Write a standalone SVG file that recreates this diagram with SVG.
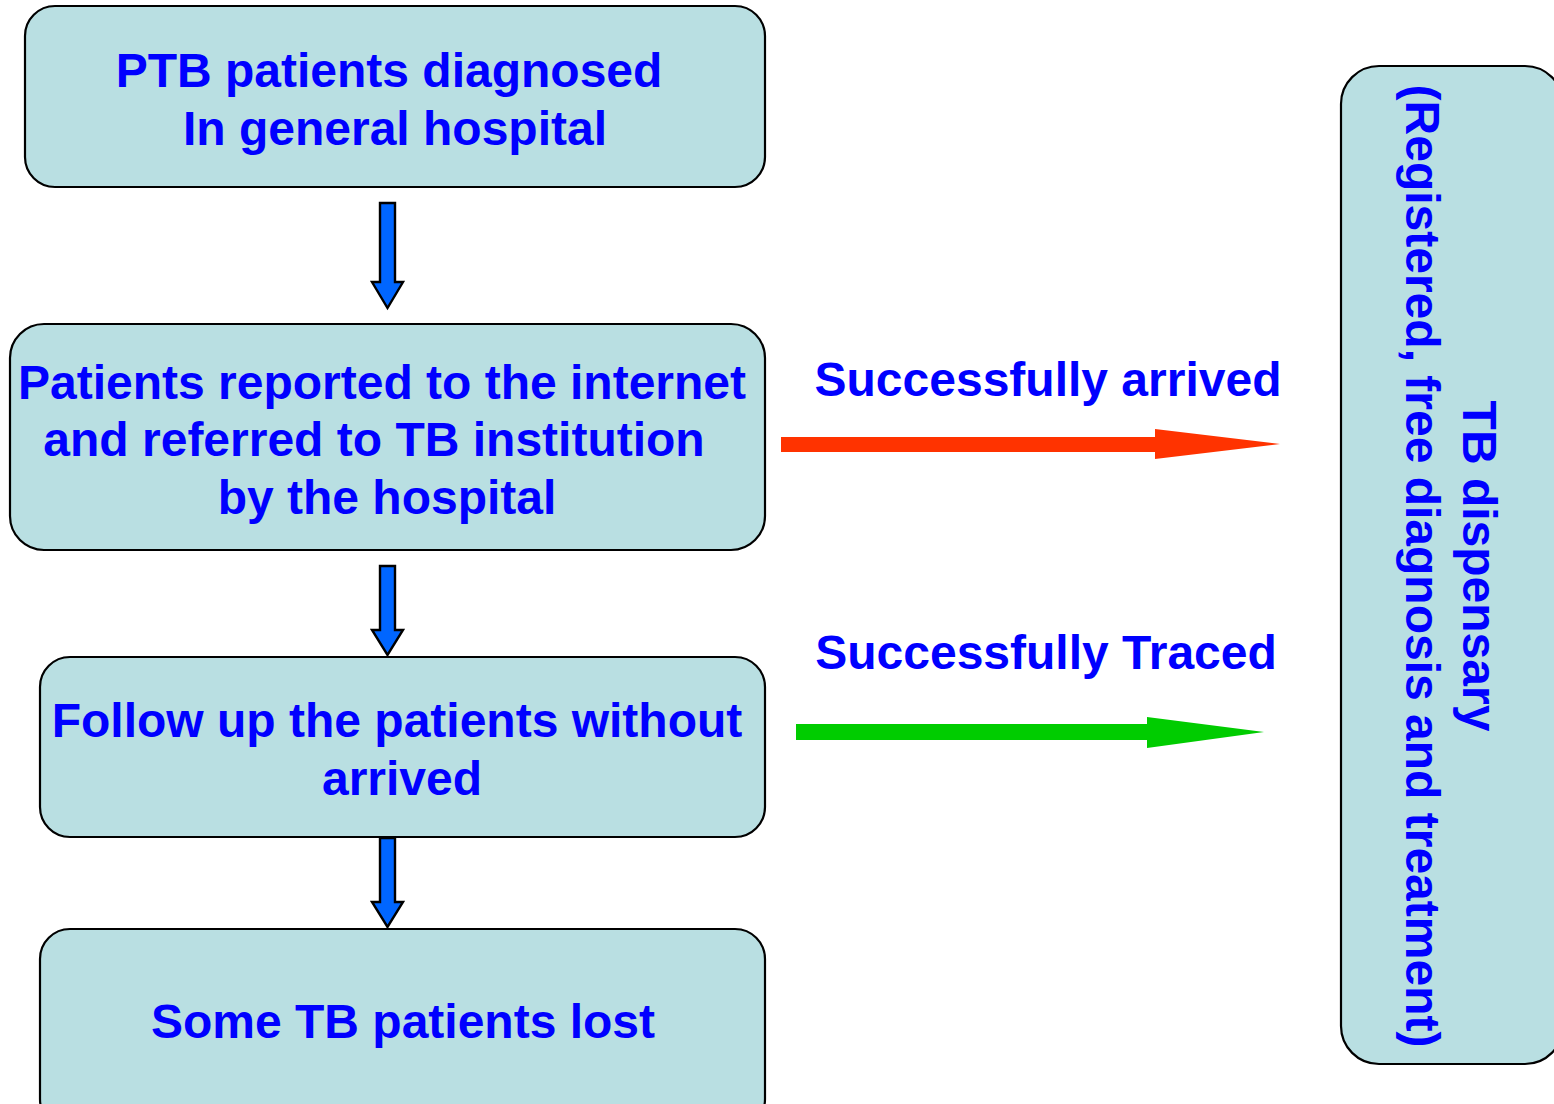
<svg xmlns="http://www.w3.org/2000/svg" width="1554" height="1104" viewBox="0 0 1554 1104">
  <style>
    .box { fill: #B9DFE2; stroke: #000000; stroke-width: 2.2; }
    .txt { font-family: "Liberation Sans", Arial, sans-serif; font-weight: bold; font-size: 48px; fill: #0000FF; text-anchor: middle; }
    .down { fill: #0066FF; stroke: #000000; stroke-width: 2.4; stroke-linejoin: miter; }
  </style>
  <rect width="1554" height="1104" fill="#FFFFFF"/>

  <!-- flow boxes -->
  <g id="node-diagnosed">
    <rect class="box" x="25" y="6" width="740" height="181" rx="30" ry="30"/>
    <text class="txt" x="389" y="87">PTB patients diagnosed</text>
    <text class="txt" x="395" y="145">In general hospital</text>
  </g>
  <g id="node-reported">
    <rect class="box" x="10" y="324" width="755" height="226" rx="34" ry="34"/>
    <text class="txt" x="382" y="399">Patients reported to the internet</text>
    <text class="txt" x="374" y="456">and referred to TB institution</text>
    <text class="txt" x="387" y="514">by the hospital</text>
  </g>
  <g id="node-followup">
    <rect class="box" x="40" y="657" width="725" height="180" rx="30" ry="30"/>
    <text class="txt" x="397" y="737">Follow up the patients without</text>
    <text class="txt" x="402" y="795">arrived</text>
  </g>
  <g id="node-lost">
    <rect class="box" x="40" y="929" width="725" height="200" rx="30" ry="30"/>
    <text class="txt" x="403" y="1038">Some TB patients lost</text>
  </g>
  <g id="node-dispensary">
    <rect class="box" x="1341" y="66" width="222" height="998" rx="38" ry="38"/>
    <text class="txt" transform="translate(1463,566) rotate(90)" x="0" y="0">TB dispensary</text>
    <text class="txt" transform="translate(1406,566) rotate(90)" x="0" y="0">(Registered, free diagnosis and treatment)</text>
  </g>

  <!-- connectors -->
  <g id="connectors">
    <path class="down" d="M380,203 H395 V282 H403 L387.5,308 L372,282 H380 Z"/>
    <path class="down" d="M380,566 H395 V630 H403 L387.5,655 L372,630 H380 Z"/>
    <path class="down" d="M380,838 H395 V902 H403 L387.5,927 L372,902 H380 Z"/>
    <path fill="#FF3300" d="M781,437 H1155 V429 L1280,444 L1155,459 V452 H781 Z"/>
    <path fill="#00CC00" d="M796,724 H1147 V717 L1264,732 L1147,748 V740 H796 Z"/>
    <text class="txt" x="1048" y="396">Successfully arrived</text>
    <text class="txt" x="1046" y="669">Successfully Traced</text>
  </g>
</svg>
